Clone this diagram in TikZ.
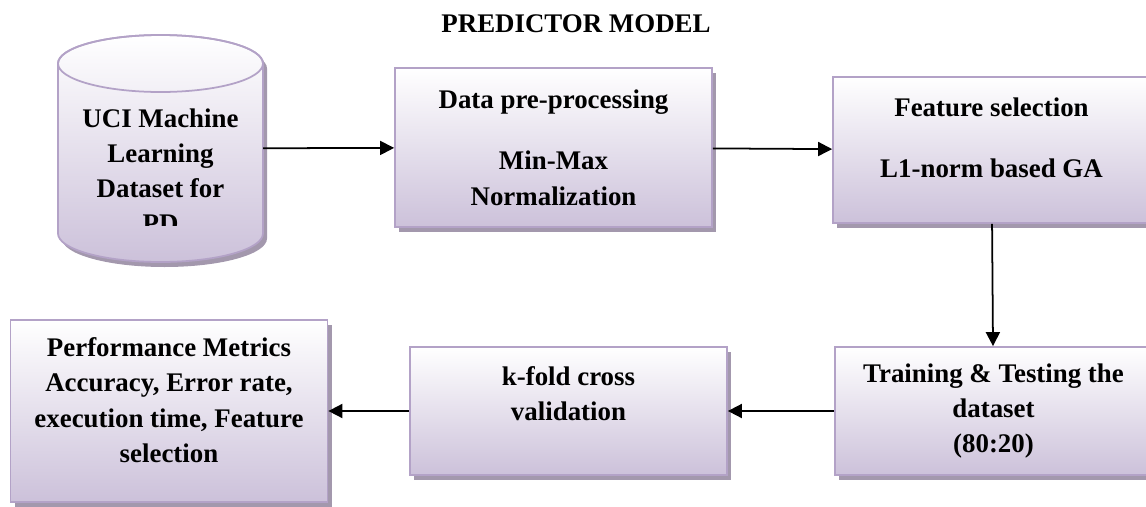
\documentclass[tikz,border=0pt]{standalone}
\usepackage{fontspec}
\setmainfont{Liberation Serif}
\usetikzlibrary{arrows.meta,shadows}
\definecolor{lilas}{HTML}{B3A2C7}
\definecolor{lilasclaro}{HTML}{CCC1DA}
\definecolor{sombra}{HTML}{A398AD}

\begin{document}
\begin{tikzpicture}[
  box/.style={draw=lilas,line width=1pt,top color=white,bottom color=lilasclaro,
    minimum width=6.34cm,align=center,font=\bfseries\fontsize{15.3}{20}\selectfont,
    drop shadow={shadow xshift=0.08cm,shadow yshift=-0.1cm,fill=sombra,opacity=1}},
  txt/.style={align=center,font=\bfseries\fontsize{15.3}{20}\selectfont},
  arr/.style={-{Triangle[length=8pt,width=8pt]},line width=1pt}
]
  \useasboundingbox (0,0) rectangle (22.92,10.12);
  \node[txt] (title) at (11.52,9.64) {PREDICTOR MODEL};

  % dataset cylinder
  \node[minimum width=4.1cm,minimum height=4.54cm,outer sep=0pt] (db) at (3.21,7.15) {};
  \fill[sombra] ([shift={(0.08,-0.67)}]db.north west) -- ([shift={(0.08,0.47)}]db.south west)
    arc[start angle=180,end angle=360,x radius=2.05,y radius=0.57]
    -- ([shift={(0.08,-0.67)}]db.north east)
    arc[start angle=0,end angle=180,x radius=2.05,y radius=0.57] -- cycle;
  \shadedraw[top color=white,bottom color=lilasclaro,draw=lilas,line width=1pt]
    ([yshift=-0.57cm]db.north west) -- ([yshift=0.57cm]db.south west)
    arc[start angle=180,end angle=360,x radius=2.05,y radius=0.57]
    -- ([yshift=-0.57cm]db.north east)
    arc[start angle=0,end angle=180,x radius=2.05,y radius=0.57] -- cycle;
  \draw[lilas,line width=1pt] ([yshift=-0.57cm]db.north) ellipse[x radius=2.05,y radius=0.57];
  \begin{scope}
    \clip (1,5.62) rectangle (5.5,9.2);
    \node[txt] (dbtxt) at (3.21,6.71) {UCI Machine\\Learning\\Dataset for\\PD};
  \end{scope}

  \node[box,minimum height=3.18cm] (prep) at (11.07,7.17) {Data pre-processing\\[15pt]Min-Max\\Normalization};
  \node[box,minimum height=2.92cm] (feat) at (19.83,7.12) {Feature selection\\[15pt]L1-norm based GA\\[-6pt]\mbox{}};
  \node[box,minimum height=2.56cm] (train) at (19.87,1.90) {Training \& Testing the\\dataset\\(80:20)};
  \node[box,minimum height=2.56cm] (kfold) at (11.37,1.90) {k-fold cross\\validation\\\mbox{}};
  \node[box,minimum height=3.64cm] (perf) at (3.38,1.90) {Performance Metrics\\Accuracy, Error rate,\\execution time, Feature\\selection\\[-7.5pt]\mbox{}};

  \draw[arr] (db) -- (prep);
  \draw[arr] (prep) -- (feat);
  \draw[arr] (feat) -- (train);
  \draw[arr] (train) -- (kfold);
  \draw[arr] (kfold) -- (perf);
\end{tikzpicture}
\end{document}
